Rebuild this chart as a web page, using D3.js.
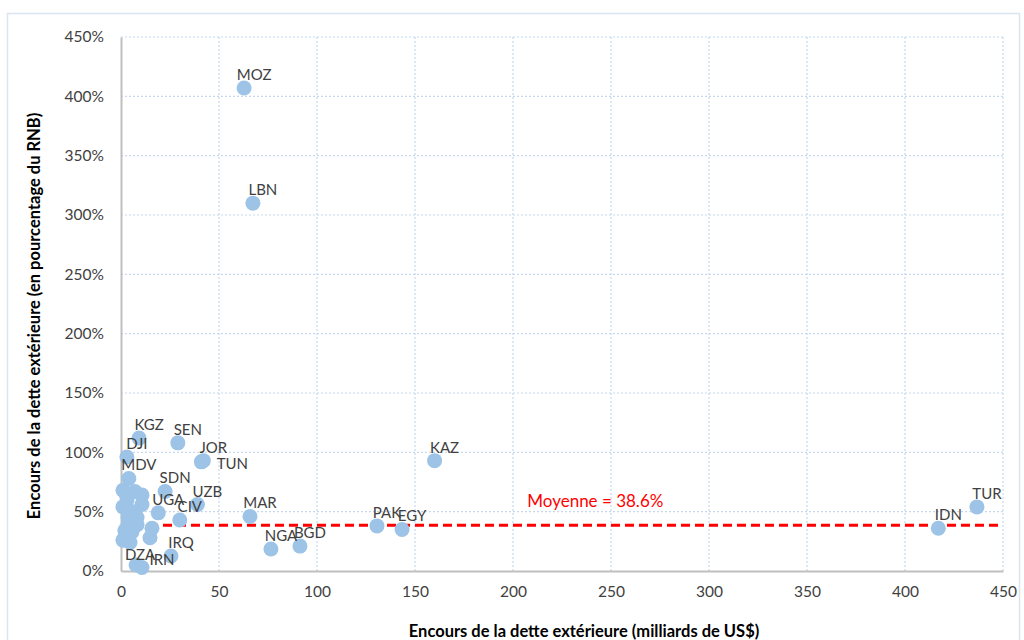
<!DOCTYPE html>
<html>
<head>
<meta charset="utf-8">
<script src="https://cdn.jsdelivr.net/npm/d3@7"></script>
<style>
  body { margin: 0; background: #fff; }
  svg text { font-family: Lato, "Open Sans", sans-serif; fill: #404040; }
</style>
</head>
<body>
<div class="chart"></div>
<script>
// pays (code ISO), encours en milliards de US$, encours en % du RNB
const pays = ["MOZ", "LBN", "KGZ", "SEN", "DJI", "JOR", "TUN", "KAZ", "MDV", "SDN",
  "UZB", "UGA", "CIV", "MAR", "PAK", "EGY", "IDN", "TUR", "NGA", "BGD", "IRQ", "DZA", "IRN",
  "", "", "", "", "", "", "", "", "", "", "", "", "", "", "", "", "", ""]
const dette = [62.8, 67.3, 9.2, 29, 3, 42, 41, 160, 4, 22.5,
  39, 19, 30, 65.8, 130.6, 143.4, 417, 436.7, 76.5, 91.3, 25.5, 7.7, 10.7,
  1, 2.5, 7.1, 10.7, 3.1, 10.7, 1, 6.1, 3.6, 8.2, 3.6, 8.2, 15.8, 14.8, 1, 4.6, 5.6, 2]
const ratio = [407, 310, 112, 108, 96, 93, 92, 93, 78, 67,
  56, 49, 43, 46, 38, 35, 36, 54, 18.5, 21, 12.6, 5, 3,
  68, 65, 67, 64, 60, 56, 54, 50, 45, 45, 39, 39, 36, 28, 26, 24, 33, 34]
const moyenne = 38.6
const xTicks = [0, 50, 100, 150, 200, 250, 300, 350, 400, 450]
const yTicks = [0, 50, 100, 150, 200, 250, 300, 350, 400, 450]

const width = 1024, height = 640
const margin = { top: 37, right: 21, bottom: 69, left: 121 }
// decalage de quelques etiquettes (comme dans l'original)
const nudge = { TUN: [31, 2], DZA: [4, -10], IRN: [20, -7] }

const svg = d3.select(".chart").append("svg")
  .attr("width", width)
  .attr("height", height)

svg.append("rect")
  .attr("x", 7.5).attr("y", 13.5)
  .attr("width", 1012).attr("height", 640)
  .attr("fill", "#fff")
  .attr("stroke", "#dbe5f1")
  .attr("stroke-width", 1.5)

const x = d3.scaleLinear().domain([0, 450]).range([margin.left, width - margin.right])
const y = d3.scaleLinear().domain([0, 450]).range([height - margin.bottom, margin.top])

// grille
svg.append("g").selectAll("line")
  .data(yTicks.filter(d => d > 0))
  .enter().append("line")
  .attr("x1", x(0)).attr("x2", x(450))
  .attr("y1", d => y(d)).attr("y2", d => y(d))
  .attr("stroke", "#c6d9f0").attr("stroke-width", 1.2)
  .attr("stroke-dasharray", "2,2")

svg.append("g").selectAll("line")
  .data(xTicks.filter(d => d > 0))
  .enter().append("line")
  .attr("x1", d => x(d)).attr("x2", d => x(d))
  .attr("y1", y(0)).attr("y2", y(450))
  .attr("stroke", "#c6d9f0").attr("stroke-width", 1.2)
  .attr("stroke-dasharray", "2,2")

// axes
const xAxis = svg.append("g")
  .attr("transform", "translate(0," + y(0) + ")")
  .call(d3.axisBottom(x).tickValues(xTicks).tickSize(0).tickPadding(15).tickFormat(d3.format("d")))
xAxis.select(".domain").attr("stroke", "#bfbfbf").attr("stroke-width", 2)
xAxis.selectAll("text").style("font-size", "15.5px")

const yAxis = svg.append("g")
  .attr("transform", "translate(" + x(0) + ",0)")
  .call(d3.axisLeft(y).tickValues(yTicks).tickSize(0).tickPadding(17).tickFormat(d => d + "%"))
yAxis.select(".domain").attr("stroke", "#bfbfbf").attr("stroke-width", 2)
yAxis.selectAll("text").style("font-size", "15.5px")

// titres des axes
svg.append("text")
  .attr("x", 584).attr("y", 637)
  .attr("text-anchor", "middle")
  .style("font-size", "16.5px").style("font-weight", "bold").style("fill", "#000")
  .text("Encours de la dette extérieure (milliards de US$)")

svg.append("text")
  .attr("transform", "translate(40,316) rotate(-90)")
  .attr("text-anchor", "middle")
  .style("font-size", "16.5px").style("font-weight", "bold").style("fill", "#000")
  .text("Encours de la dette extérieure (en pourcentage du RNB)")

// ligne de moyenne
svg.append("line")
  .attr("x1", x(0)).attr("x2", x(450))
  .attr("y1", y(moyenne)).attr("y2", y(moyenne))
  .attr("stroke", "#ff0000").attr("stroke-width", 3)
  .attr("stroke-dasharray", "9,5")

svg.append("text")
  .attr("x", x(242)).attr("y", y(moyenne) - 18)
  .attr("text-anchor", "middle")
  .style("font-size", "17px").style("fill", "#ff0000")
  .text("Moyenne = " + moyenne + "%")

// points
const data = pays.map((p, i) => ({ pays: p, dette: dette[i], ratio: ratio[i] }))

svg.append("g").selectAll("circle")
  .data(data)
  .enter().append("circle")
  .attr("cx", d => x(d.dette))
  .attr("cy", d => y(d.ratio))
  .attr("r", 7.5)
  .attr("fill", "#9dc3e6")

svg.append("g").selectAll("text")
  .data(data.filter(d => d.pays))
  .enter().append("text")
  .attr("x", d => x(d.dette) + (nudge[d.pays] ? nudge[d.pays][0] : 10))
  .attr("y", d => y(d.ratio) + (nudge[d.pays] ? nudge[d.pays][1] : -13) + 5)
  .attr("text-anchor", "middle")
  .style("font-size", "15px")
  .text(d => d.pays)
</script>
</body>
</html>
